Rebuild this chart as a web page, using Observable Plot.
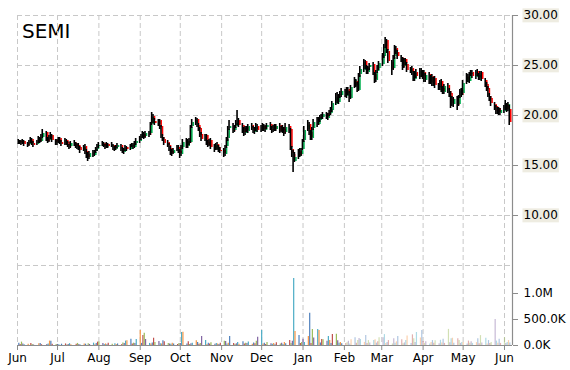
<!DOCTYPE html>
<html><head><meta charset="utf-8">
<script src="https://cdn.jsdelivr.net/npm/d3@7"></script>
<script src="https://cdn.jsdelivr.net/npm/@observablehq/plot@0.6"></script>
<style>
html,body{margin:0;padding:0;background:#fff;}
#wrap{position:relative;width:570px;height:370px;font-family:"DejaVu Sans",Verdana,sans-serif;overflow:hidden;}
#wrap svg{position:absolute;left:0;overflow:visible;}
#title{position:absolute;left:22px;top:19px;font-size:20px;color:#000;line-height:24px;}
</style></head><body><div id="wrap"><div id="title"></div></div>
<script>
const ticker = "SEMI";
const firstDay = "2014-06-02";
const lastDay = "2015-06-05";
const domainStart = "2014-06-01";
const domainEnd = "2015-06-07";
const monthTicks = ["2014-06-01","2014-07-01","2014-08-01","2014-09-01","2014-10-01","2014-11-01","2014-12-01","2015-01-01","2015-02-01","2015-03-01","2015-04-01","2015-05-01","2015-06-01"];
const priceTicks = [10, 15, 20, 25, 30];
const priceGrid = [5, 10, 15, 20, 25, 30];
const volumeTicks = [0, 500, 1000];
const volumeTickLabels = ["0.0K", "500.0K", "1.0M"];

// one value per trading day, month by month
const close = [
 17.4,17.3,17.2,17.4,17.1,17.0,17.3,17.5,17.2,17.0,17.3,17.6,17.4,17.8,18.2,17.6,17.4,17.8,18.0,17.5,17.3,
 17.4,17.6,17.3,17.1,17.5,17.2,17.0,16.8,17.2,17.1,16.9,17.0,16.7,16.5,16.8,16.3,16.0,15.8,16.2,16.0,16.3,16.6,16.9,
 17.0,17.2,16.9,16.8,17.1,16.9,17.0,16.7,16.6,16.8,17.0,16.6,16.4,16.5,16.8,16.6,16.9,17.0,16.8,17.2,17.4,
 17.6,17.9,18.1,17.8,18.2,18.0,19.0,19.8,19.5,19.2,19.4,18.8,17.9,17.6,17.2,17.0,16.6,16.3,16.2,16.5,16.8,16.4,
 16.2,16.8,17.3,16.9,17.4,17.2,18.8,19.3,19.5,19.0,18.6,18.0,17.6,17.9,17.2,17.0,17.4,16.8,16.6,17.0,16.7,16.5,16.4,
 16.2,16.8,17.6,18.6,18.9,18.4,18.8,19.2,19.4,19.0,18.6,18.3,18.7,18.5,18.9,18.7,18.4,18.6,18.8,18.5,
 18.7,18.9,18.6,18.8,19.0,18.7,18.5,18.8,18.6,18.9,18.4,18.7,18.5,18.2,18.8,18.4,16.8,16.2,15.5,15.8,16.3,16.0,16.5,
 17.4,18.5,19.0,18.2,17.8,18.6,19.3,19.0,19.6,19.8,19.9,20.1,19.8,20.0,20.3,20.6,21.2,21.8,21.4,21.9,22.1,22.4,
 22.0,22.5,22.2,21.8,22.8,23.5,23.0,22.6,24.0,24.6,25.3,24.9,24.4,24.7,25.0,24.2,23.6,24.3,24.8,25.2,
 26.0,26.8,27.4,26.5,25.4,24.6,25.8,26.6,26.4,25.9,25.6,24.8,25.5,25.2,24.5,24.6,24.3,23.7,24.2,23.9,24.4,24.0,
 24.2,23.6,24.0,23.4,23.8,23.2,23.6,23.0,22.8,23.3,22.6,22.4,22.9,22.5,22.1,21.8,21.2,21.6,21.0,21.8,22.4,22.0,
 23.2,23.8,23.5,24.0,24.2,23.9,24.3,24.1,23.8,24.2,23.6,23.0,22.6,22.0,21.6,21.2,20.8,20.4,20.6,20.3,20.5,
 20.8,21.0,20.6,21.1,19.3
];
const open = [
 17.3,17.4,17.4,17.2,17.4,17.2,17.1,17.3,17.6,17.2,17.1,17.3,17.7,17.4,17.8,18.3,17.6,17.5,17.7,18.0,17.5,
 17.2,17.4,17.7,17.3,17.1,17.5,17.3,17.0,16.9,17.3,17.1,16.8,17.0,16.8,16.5,16.9,16.4,16.1,15.8,16.3,16.0,16.4,16.6,
 16.9,17.0,17.2,16.9,16.8,17.1,16.9,17.0,16.7,16.6,16.8,17.0,16.6,16.3,16.5,16.8,16.6,16.9,17.1,16.8,17.2,
 17.4,17.7,17.8,18.1,17.9,18.2,18.2,19.1,19.9,19.4,19.1,19.5,18.9,17.8,17.6,17.3,17.0,16.7,16.4,16.2,16.5,16.8,
 16.4,16.1,16.8,17.4,16.9,17.5,17.3,18.9,19.2,19.6,19.0,18.7,18.1,17.5,18.0,17.3,17.0,17.5,16.9,16.6,17.1,16.8,16.5,
 16.5,16.1,16.9,17.7,18.7,19.0,18.5,18.9,19.1,19.5,19.0,18.7,18.2,18.8,18.4,19.0,18.7,18.3,18.6,18.9,
 18.5,18.6,18.9,18.5,18.8,19.1,18.6,18.5,18.9,18.6,19.0,18.5,18.8,18.6,18.3,18.9,18.6,16.6,16.1,15.4,15.9,16.4,16.1,
 16.6,17.5,18.6,19.1,18.3,17.7,18.7,19.4,19.1,19.5,19.9,19.8,20.2,19.7,20.1,20.2,20.5,21.1,21.9,21.3,22.0,22.0,
 22.3,21.9,22.6,22.1,21.7,22.9,23.4,23.1,22.5,24.1,24.5,25.4,24.8,24.3,24.8,25.1,24.1,23.5,24.4,24.7,
 25.1,25.9,26.9,27.5,26.4,25.3,24.7,25.9,26.7,26.3,25.8,25.7,24.9,25.6,25.1,24.4,24.7,24.2,23.6,24.3,23.8,24.5,
 23.9,24.3,23.5,24.1,23.3,23.9,23.1,23.7,22.9,22.7,23.4,22.7,22.3,23.0,22.4,22.2,21.7,21.1,21.7,21.1,21.9,22.5,
 22.2,23.3,23.9,23.4,24.1,24.3,23.8,24.4,24.0,23.7,24.3,23.5,23.1,22.7,21.9,21.7,21.1,20.9,20.3,20.7,20.2,
 20.4,20.7,21.1,20.5,20.6
];
const high = [
 17.6,17.5,17.5,17.6,17.5,17.3,17.5,17.8,17.7,17.4,17.5,17.9,17.8,18.1,18.6,18.4,17.8,18.0,18.3,18.1,17.6,
 17.6,17.8,17.8,17.5,17.7,17.6,17.4,17.1,17.4,17.5,17.3,17.2,17.2,16.9,17.0,17.1,16.6,16.3,16.4,16.5,16.5,16.8,17.1,
 17.3,17.4,17.3,17.1,17.3,17.2,17.3,17.1,16.9,17.0,17.2,17.1,16.8,16.7,17.0,16.9,17.1,17.2,17.2,17.4,17.7,
 17.9,18.1,18.4,18.3,18.4,18.4,19.3,20.3,20.1,19.7,19.6,19.6,19.0,18.1,17.8,17.5,17.2,16.9,16.6,16.7,17.0,17.0,
 16.6,17.0,17.6,17.7,17.6,17.7,19.0,19.6,19.8,19.7,19.2,18.8,18.3,18.1,18.1,17.5,17.6,17.7,17.1,17.2,17.3,17.0,16.8,
 16.7,17.0,17.8,18.9,19.5,19.2,19.0,19.5,20.5,19.7,19.2,18.8,18.9,18.9,19.1,19.2,18.9,18.8,19.2,19.1,
 19.0,19.2,19.1,19.0,19.2,19.3,18.9,19.0,19.1,19.1,19.2,18.9,19.0,18.8,19.2,19.1,18.7,16.9,16.5,16.3,16.6,16.7,16.7,
 17.6,18.9,19.5,19.3,18.5,18.8,19.6,19.8,19.8,20.0,20.1,20.3,20.3,20.2,20.5,20.8,21.4,22.2,22.3,22.1,22.4,22.7,
 22.6,22.8,22.8,22.4,23.0,23.8,23.6,23.3,24.2,24.9,25.6,25.5,25.0,24.9,25.2,25.3,24.3,24.5,25.0,25.4,
 26.2,27.1,27.8,27.6,26.6,25.5,26.0,27.0,26.9,26.5,26.0,25.8,25.7,25.7,25.3,24.8,24.9,24.4,24.4,24.6,24.7,24.7,
 24.5,24.5,24.2,24.3,24.0,24.1,23.8,23.9,23.2,23.5,23.6,22.9,23.1,23.2,22.7,22.4,21.9,21.8,21.9,22.0,22.6,22.7,
 23.5,24.2,24.1,24.3,24.5,24.5,24.5,24.6,24.2,24.4,24.4,23.7,23.3,22.9,22.2,21.9,21.3,21.0,20.8,20.8,20.7,
 21.0,21.5,21.2,21.3,21.0
];
const low = [
 17.1,17.1,17.0,17.1,16.9,16.8,16.9,17.2,17.0,16.8,17.0,17.2,17.2,17.3,17.7,17.4,17.2,17.3,17.6,17.3,17.0,
 17.0,17.2,17.1,16.9,17.0,17.0,16.8,16.6,16.7,16.9,16.7,16.6,16.5,16.2,16.4,16.1,15.7,15.4,15.6,15.8,15.9,16.2,16.4,
 16.7,16.9,16.8,16.6,16.7,16.7,16.8,16.5,16.4,16.5,16.7,16.4,16.2,16.1,16.4,16.4,16.5,16.8,16.6,16.7,17.0,
 17.2,17.5,17.7,17.6,17.7,17.8,18.0,19.0,19.2,19.0,18.9,18.6,17.7,17.4,17.0,16.8,16.4,16.0,15.9,16.1,16.4,16.2,
 15.7,15.9,16.6,16.7,16.7,17.0,17.2,18.7,19.0,18.8,18.4,17.8,17.4,17.4,17.0,16.8,16.9,16.6,16.3,16.5,16.5,16.3,16.2,
 15.8,15.9,16.7,17.4,18.5,18.2,18.3,18.7,19.0,18.8,18.2,17.9,18.0,18.3,18.2,18.5,18.2,18.1,18.4,18.3,
 18.3,18.4,18.4,18.3,18.6,18.5,18.2,18.3,18.4,18.4,18.2,18.3,18.2,17.9,18.1,18.2,16.5,15.8,14.3,15.3,15.6,15.8,15.9,
 16.5,17.3,18.4,18.0,17.5,17.5,18.5,18.8,19.0,19.3,19.6,19.6,19.6,19.5,19.9,20.0,20.3,21.0,21.2,21.1,21.7,21.8,
 21.8,21.7,22.0,21.3,21.6,22.7,22.8,22.3,22.4,23.8,24.3,24.6,24.1,24.1,24.5,24.0,23.2,23.3,24.2,24.5,
 24.9,25.7,26.7,26.2,25.2,24.0,24.5,25.6,26.1,25.6,25.3,24.5,24.7,25.0,24.3,24.2,24.0,23.4,23.4,23.7,23.6,23.8,
 23.6,23.3,23.3,23.1,23.1,22.9,22.9,22.7,22.5,22.5,22.3,22.1,22.1,22.2,21.8,20.7,20.9,20.8,20.5,20.9,21.7,21.8,
 22.0,23.1,23.3,23.2,23.9,23.7,23.6,23.9,23.5,23.5,23.4,22.8,22.4,21.8,21.4,20.9,20.5,20.1,20.1,20.0,20.0,
 20.2,20.5,20.3,20.4,19.0
];
// volume, thousands of shares
const volume = [
 45,20,65,30,15,25,0,40,20,10,0,35,40,15,0,20,30,85,80,25,20,
 20,15,0,25,30,10,20,35,15,0,25,40,20,10,30,25,0,35,20,45,15,40,65,
 65,40,20,30,15,45,25,0,35,20,30,15,50,40,85,90,120,30,45,40,115,
 290,40,190,235,115,40,30,50,140,60,75,35,30,90,70,40,30,25,45,30,20,40,
 40,250,255,30,70,20,35,45,90,60,25,40,175,95,20,45,30,55,25,40,30,20,45,
 80,75,30,45,175,40,20,35,60,25,70,30,45,40,65,25,50,35,80,160,
 290,30,45,20,60,35,25,40,15,55,30,45,20,60,35,95,40,80,1290,270,190,40,60,
 120,60,175,620,40,310,145,310,290,50,115,110,80,175,95,40,210,215,90,45,60,35,
 40,55,80,30,110,150,45,95,135,115,60,190,40,95,50,95,110,45,70,150,
 150,210,40,60,95,30,130,45,70,175,110,35,50,95,185,40,205,130,60,250,145,290,
 75,40,70,30,60,95,45,90,35,100,50,120,40,310,55,130,140,45,130,95,40,60,
 60,30,85,45,70,40,55,130,35,190,50,140,30,95,40,60,500,85,45,120,40,
 150,40,60,95,50
];
const volumePalette = ["#4f81bd","#c0504d","#9bbb59","#8064a2","#4bacc6","#f79646"];

// trading-day calendar (weekdays)
const days = [];
for (let d = new Date(firstDay + "T00:00:00Z"); d <= new Date(lastDay + "T00:00:00Z"); d = new Date(+d + 864e5)) {
  const wd = d.getUTCDay();
  if (wd !== 0 && wd !== 6) days.push(d);
}
const n = Math.min(days.length, close.length, open.length, high.length, low.length, volume.length);
const bars = d3.range(n).map(i => ({
  date: days[i], open: open[i], high: high[i], low: low[i], close: close[i], volume: volume[i], idx: i
}));
const months = monthTicks.map(s => new Date(s + "T00:00:00Z"));
const x0 = new Date(domainStart + "T00:00:00Z"), x1 = new Date(domainEnd + "T00:00:00Z");
const fadeFrom = new Date("2015-02-01T00:00:00Z");

document.getElementById("title").textContent = ticker;

const font = {fontFamily: '"DejaVu Sans", Verdana, sans-serif', fontSize: "12px", color: "#000", background: "transparent", overflow: "visible"};
const gridStyle = {stroke: "#c8c8c8", strokeOpacity: 1, strokeDasharray: "5,3", strokeWidth: 1};

const pricePlot = Plot.plot({
  width: 570, height: 270,
  marginLeft: 17, marginRight: 58, marginTop: 15, marginBottom: 5,
  style: font,
  x: {type: "utc", domain: [x0, x1], axis: null},
  y: {domain: [5, 30], axis: null},
  marks: [
    Plot.gridX(months, gridStyle),
    Plot.gridY(priceGrid, gridStyle),
    Plot.ruleX([x1], {y1: 5, y2: 30, stroke: "#8c8c8c", strokeWidth: 1.2}),
    Plot.axisY(priceTicks, {anchor: "right", label: null, tickSize: 5, tickPadding: 6, stroke: "#8c8c8c",
      tickFormat: d => d.toFixed(2), fill: "#000", fontSize: 12}),
    Plot.ruleX(bars, {x: "date", y1: "open", y2: "close", dx: 0.9, strokeWidth: 1.6,
      stroke: d => d.close >= d.open ? "#00b050" : "#ff0000"}),
    Plot.ruleX(bars, {x: "date", y1: "low", y2: "high", dx: -0.6, strokeWidth: 1.6, stroke: "#000"})
  ]
});
pricePlot.style.top = "0px";
document.getElementById("wrap").appendChild(pricePlot);

const volPlot = Plot.plot({
  width: 570, height: 105,
  marginLeft: 17, marginRight: 58, marginTop: 0, marginBottom: 25,
  style: font,
  x: {type: "utc", domain: [x0, x1], axis: null},
  y: {domain: [0, 1000 * 80 / 52], axis: null},
  marks: [
    Plot.gridX(months, gridStyle),
    Plot.ruleX(bars, {x: "date", y1: 0, y2: "volume", strokeWidth: 1.2,
      stroke: d => volumePalette[d.idx % volumePalette.length],
      strokeOpacity: d => d.date >= fadeFrom ? 0.45 : 1}),
    Plot.ruleX([x1], {stroke: "#8c8c8c", strokeWidth: 1.2}),
    Plot.ruleY([0], {stroke: "#8c8c8c", strokeWidth: 1.2}),
    Plot.axisY(volumeTicks, {anchor: "right", label: null, tickSize: 5, tickPadding: 6, stroke: "#8c8c8c",
      tickFormat: (d, i) => volumeTickLabels[i], fill: "#000", fontSize: 12}),
    Plot.axisX(months, {anchor: "bottom", label: null, tickSize: 5, tickPadding: 3, stroke: "#8c8c8c",
      tickFormat: d3.utcFormat("%b"), fill: "#000", fontSize: 12})
  ]
});
volPlot.style.top = "265px";
document.getElementById("wrap").appendChild(volPlot);

// beige label backgrounds on the price axis
d3.select(pricePlot).selectAll('g[aria-label="y-axis tick label"] text').each(function() {
  const b = this.getBBox();
  d3.select(this.parentNode).insert("rect", () => this)
    .attr("transform", this.getAttribute("transform"))
    .attr("x", b.x - 1).attr("y", b.y).attr("width", b.width + 2).attr("height", b.height)
    .attr("fill", "#eeece1").attr("stroke", "none");
});
</script></body></html>
